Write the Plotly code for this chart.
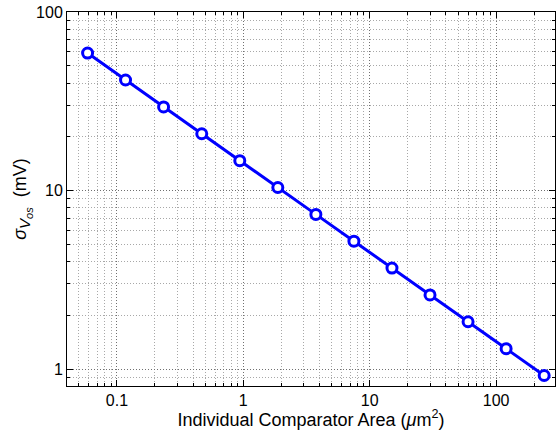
import plotly.graph_objects as go

area = [0.0586, 0.117, 0.234, 0.469, 0.9375, 1.875, 3.75, 7.5, 15, 30, 60, 120, 240]
sigma_vos = [58.9, 41.6, 29.4, 20.8, 14.7, 10.4, 7.35, 5.2, 3.68, 2.6, 1.84, 1.3, 0.92]

x_ticks = [0.1, 1, 10, 100]
x_tick_labels = ["0.1", "1", "10", "100"]
y_ticks = [1, 10, 100]
y_tick_labels = ["1", "10", "100"]

x_minor = [m * 10 ** e for e in range(-2, 3) for m in range(2, 10)]
y_minor = [m * 10 ** e for e in range(-1, 2) for m in range(2, 10)]

fig = go.Figure()
fig.add_trace(go.Scatter(
    x=area, y=sigma_vos, mode="lines+markers",
    line=dict(color="#0000ff", width=3),
    marker=dict(symbol="circle", size=10, color="white",
                line=dict(color="#0000ff", width=3)),
    showlegend=False,
))

tick_font = dict(family="Liberation Sans, Arial, sans-serif", size=16, color="black")
title_font = dict(family="Liberation Sans, Arial, sans-serif", size=18, color="black")

common = dict(
    showline=True, linecolor="black", linewidth=1, mirror="ticks",
    ticks="inside", ticklen=6, tickcolor="black", tickwidth=1,
    showgrid=True, gridcolor="#707070", griddash="1px,2px", gridwidth=1,
    zeroline=False, tickfont=tick_font,
)
minor_common = dict(tickmode="array", ticks="inside", ticklen=3,
                    tickcolor="black", showgrid=True, gridcolor="#a8a8a8",
                    griddash="1px,2px", gridwidth=1)

y_title = ("<i>σ</i><sub><span style='font-size:15px'><i>V</i></span>"
           "<sub><span style='font-size:11px'><i>os</i></span></sub></sub>  (mV)")

fig.update_xaxes(
    type="log", range=[-1.395, 2.466],
    tickmode="array", tickvals=x_ticks, ticktext=x_tick_labels,
    minor=dict(tickvals=x_minor, **minor_common),
    title=dict(text="Individual Comparator Area (<i>μ</i>m<sup>2</sup>)", font=title_font, standoff=0),
    **common,
)
fig.update_yaxes(
    type="log", range=[-0.095, 2],
    tickmode="array", tickvals=y_ticks, ticktext=y_tick_labels,
    minor=dict(tickvals=y_minor, **minor_common),
    title=dict(text=y_title, font=title_font, standoff=4),
    **common,
)

fig.update_layout(
    width=557, height=430,
    margin=dict(l=67, r=2, t=12, b=44),
    paper_bgcolor="white", plot_bgcolor="white",
    font=tick_font,
)

fig.write_html("out.html")
